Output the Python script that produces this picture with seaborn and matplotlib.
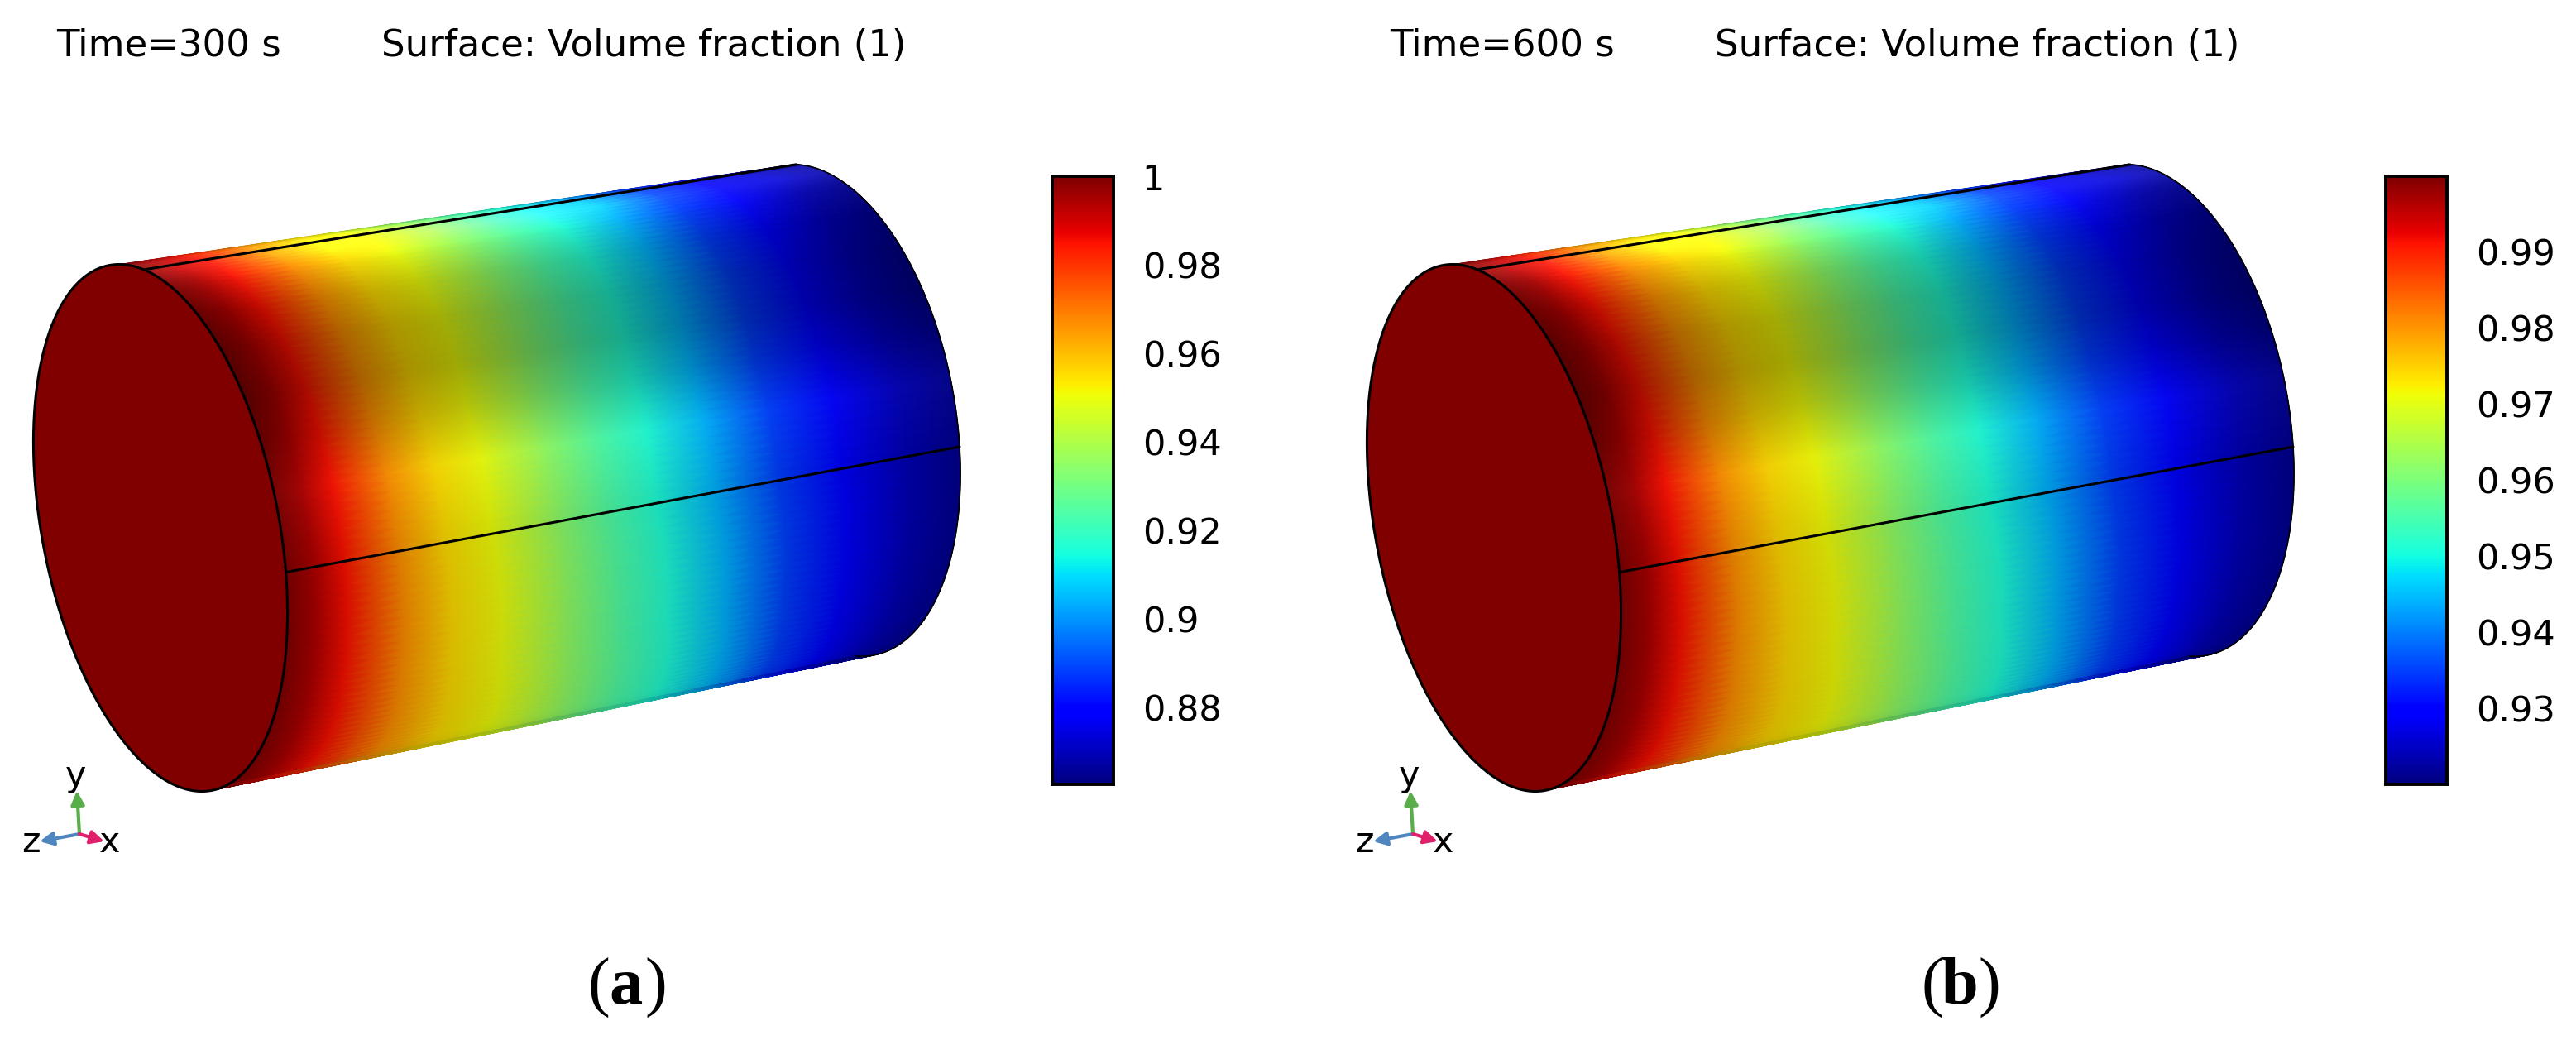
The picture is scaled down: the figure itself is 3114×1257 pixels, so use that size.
import numpy as np
import matplotlib
matplotlib.use('Agg')
import matplotlib.pyplot as plt
import seaborn as sns

# axial stations along the cylinder (0 = front face, 1 = far end)
stations = [0.0, 0.04, 0.085, 0.165, 0.235, 0.305, 0.40, 0.476, 0.55, 0.636, 0.73, 0.825, 0.92, 1.0]

# volume fraction read at those stations
fraction_300 = [1.0, 0.9945, 0.985, 0.967, 0.956, 0.9506, 0.9355, 0.9245, 0.9162, 0.904, 0.8888, 0.8778, 0.8696, 0.8648]
fraction_600 = [0.9999, 0.9968, 0.9912, 0.9808, 0.9744, 0.9712, 0.9624, 0.956, 0.9512, 0.944, 0.9352, 0.9288, 0.924, 0.9212]

# colour bar ranges and ticks
range_300 = (0.8627, 1.0)
range_600 = (0.92, 0.9999)
ticks_300 = [1.0, 0.98, 0.96, 0.94, 0.92, 0.90, 0.88]
labels_300 = ['1', '0.98', '0.96', '0.94', '0.92', '0.9', '0.88']
ticks_600 = [0.99, 0.98, 0.97, 0.96, 0.95, 0.94, 0.93]
labels_600 = ['0.99', '0.98', '0.97', '0.96', '0.95', '0.94', '0.93']

# lighting around the circumference (angle in degrees, top to bottom)
angles = [98, 92, 84, 74, 62, 50, 38, 28, 16, 0, -30, -60, -84]
shade = [0.78, 1.0, 1.08, 0.92, 0.78, 0.68, 0.66, 0.76, 0.93, 0.87, 0.85, 0.83, 0.72]
gloss = [0.02, 0.12, 0.12, 0.04, 0.0, 0.0, 0.0, 0.0, 0.02, 0.0, 0.0, 0.0, 0.0]
drift = [0.0, 0.02, 0.03, 0.03, 0.025, 0.02, 0.01, 0.0, 0.0, 0.0, 0.03, 0.08, 0.13]

W, H = 3114, 1257
PANEL_SHIFT = 1612

sns.set_theme(style='white')
plt.rcParams['font.family'] = ['DejaVu Sans']
plt.rcParams['text.color'] = 'black'
plt.rcParams['ytick.color'] = 'black'
plt.rcParams['ytick.labelcolor'] = 'black'

fig = plt.figure(figsize=(W / 100, H / 100), dpi=100)
ax = fig.add_axes([0, 0, 1, 1])
ax.set_xlim(0, W)
ax.set_ylim(H, 0)
ax.axis('off')

cmap = plt.get_cmap('jet')


def near_end(t, dx):
    return (194 + dx + 151 * np.cos(t) - 28 * np.sin(t),
            638 + 47 * np.cos(t) - 315 * np.sin(t))


def far_end(t, dx):
    return (1000 + dx + 160 * np.cos(t) - 18 * np.sin(t),
            496 + 44 * np.cos(t) - 294 * np.sin(t))


def draw_cylinder(values, limits, dx):
    deg = np.linspace(angles[0], angles[-1], 90)
    t = np.radians(deg)[:, None]
    u = np.array(stations)[None, :]
    push = np.interp(-deg, -np.array(angles), drift)[:, None]
    pos = u + push * np.sin(np.pi * u)
    nx, ny = near_end(t, dx)
    fx, fy = far_end(t, dx)
    xx = nx + (fx - nx) * pos
    yy = ny + (fy - ny) * pos

    norm = (np.array(values) - limits[0]) / (limits[1] - limits[0])
    rgb = cmap(norm)[:, :3][None, :, :].repeat(len(deg), axis=0)
    light = np.interp(-deg, -np.array(angles), shade)[:, None, None]
    shine = np.interp(-deg, -np.array(angles), gloss)[:, None, None]
    rgb = np.clip(rgb * light + shine, 0, 1)
    rgba = np.dstack([rgb, np.ones(rgb.shape[:2])])
    # drawn twice so the triangle seams do not show
    for _ in range(2):
        ax.pcolormesh(xx, yy, rgba, shading='gouraud', zorder=1)

    # far rim
    arc = np.radians(np.linspace(98, -84, 200))
    rx, ry = far_end(arc, dx)
    ax.plot(rx, ry, color='black', lw=1.2, zorder=2)

    # front face and edges
    ring = np.linspace(0, 2 * np.pi, 300)
    ex, ey = near_end(ring, dx)
    ax.fill(ex, ey, color='#800000', zorder=2)
    ax.plot(ex, ey, color='black', lw=2.2, zorder=3)
    for a, b in [(-1.2, 0.0), (87.0, 97.0)]:
        x0, y0 = near_end(np.radians(a), dx)
        x1, y1 = far_end(np.radians(b), dx)
        ax.plot([x0, x1], [y0, y1], color='black', lw=2.2, zorder=3)


def draw_triad(dx):
    ox, oy = 96 + dx, 1008
    arrows = [(93 + dx, 956, '#5aae4a'), (48 + dx, 1017, '#4f86c0'), (126 + dx, 1017, '#e0206a')]
    for x, y, col in arrows:
        ax.annotate('', xy=(x, y), xytext=(ox, oy),
                    arrowprops=dict(arrowstyle='-|>', color=col, lw=3, mutation_scale=24,
                                    shrinkA=0, shrinkB=0))
    ax.text(92 + dx, 938, 'y', fontsize=31, ha='center', va='center')
    ax.text(37 + dx, 1018, 'z', fontsize=31, ha='center', va='center')
    ax.text(133 + dx, 1018, 'x', fontsize=31, ha='center', va='center')


def draw_colorbar(limits, ticks, labels, dx):
    left, right, top, bottom = 1272 + dx, 1346 + dx, 213, 948
    cax = fig.add_axes([left / W, 1 - bottom / H, (right - left) / W, (bottom - top) / H])
    levels = np.linspace(limits[1], limits[0], 256)[:, None]
    sns.heatmap(levels, cmap='jet', vmin=limits[0], vmax=limits[1], cbar=False, ax=cax,
                xticklabels=False, yticklabels=False)
    pos = [(limits[1] - v) / (limits[1] - limits[0]) * 256 for v in ticks]
    cax.set_yticks(pos)
    cax.set_yticklabels(labels, rotation=0, fontsize=31)
    cax.tick_params(axis='y', direction='in', left=True, right=True, labelleft=False, labelright=True,
                    length=11, width=2.8, pad=25, color='black')
    for side in cax.spines.values():
        side.set_visible(True)
        side.set_color('black')
        side.set_linewidth(2.8)


def draw_caption(letter, x):
    ax.text(x - 20, 1194, '(', fontsize=58, family='Liberation Serif', ha='right', va='center')
    ax.text(x, 1194, letter, fontsize=58, family='Liberation Serif', weight='bold', ha='center', va='center')
    ax.text(x + 22, 1194, ')', fontsize=58, family='Liberation Serif', ha='left', va='center')


panels = [
    (fraction_300, range_300, ticks_300, labels_300, 'Time=300 s', 'a', 0),
    (fraction_600, range_600, ticks_600, labels_600, 'Time=600 s', 'b', PANEL_SHIFT),
]
for values, limits, ticks, labels, stamp, letter, dx in panels:
    draw_cylinder(values, limits, dx)
    draw_triad(dx)
    draw_colorbar(limits, ticks, labels, dx)
    ax.text(68 + dx, 55, stamp, fontsize=32.4, ha='left', va='center')
    ax.text(461 + dx, 55, 'Surface: Volume fraction (1)', fontsize=32.4, ha='left', va='center')
    draw_caption(letter, 757 + dx)

fig.savefig('out.png', dpi=100)
